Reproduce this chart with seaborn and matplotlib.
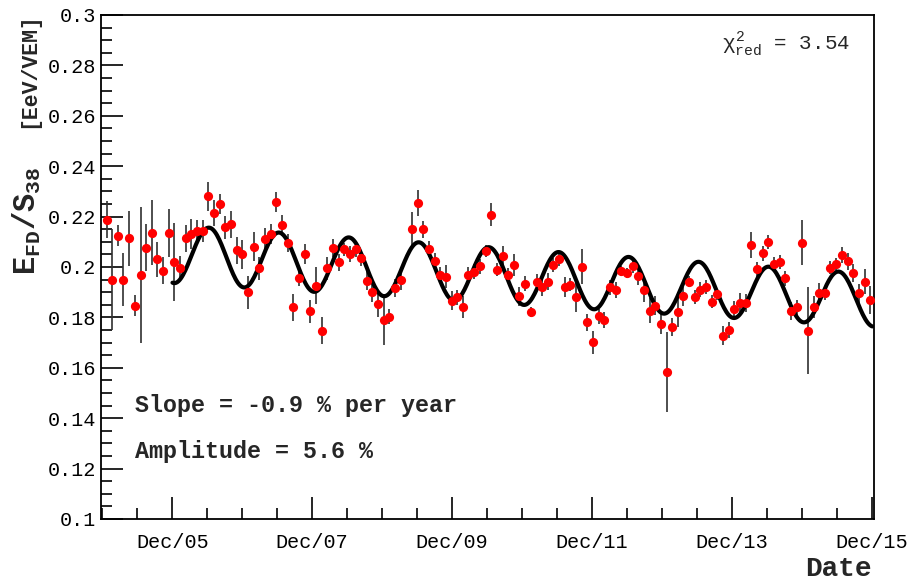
import numpy as np
import pandas as pd
from matplotlib import pyplot as plt
from matplotlib.ticker import FixedLocator, MultipleLocator
import seaborn as sns

# Data: one point per lunation (FD data taking period)

first_bin = pd.Timestamp('2004-12-23')
lunation_days = 29.53

ratio = [0.2188, 0.195, 0.2125, 0.195, 0.2114, 0.1847, 0.1969, 0.2076, 0.2136, 0.2031,
         0.1986, 0.2136, 0.2019, 0.1995, 0.2114, 0.2132, 0.2142, 0.2142, 0.228, 0.2214,
         0.2251, 0.2157, 0.217, 0.2066, 0.205, 0.19, 0.2081, 0.1995, 0.2113, 0.2132,
         0.2258, 0.2165, 0.2095, 0.184, 0.1957, 0.205, 0.1824, 0.1926, 0.1747, 0.1995,
         0.2075, 0.2018, 0.207, 0.2052, 0.207, 0.2034, 0.1946, 0.19, 0.1854, 0.1791,
         0.1803, 0.1917, 0.195, np.nan, 0.2149, 0.2254, 0.215, 0.2071, 0.2023, 0.1969,
         0.1962, 0.1867, 0.188, 0.184, 0.1969, 0.1982, 0.2003, 0.2063, 0.2208, 0.1989,
         0.2044, 0.197, 0.2009, 0.1883, 0.1933, 0.1823, 0.194, 0.1922, 0.1942, 0.2009,
         0.203, 0.1922, 0.193, 0.1879, 0.2001, 0.1781, 0.1701, 0.1804, 0.179, 0.192,
         0.1909, 0.1983, 0.1977, 0.2002, 0.1963, 0.1907, 0.1827, 0.1847, 0.1774, 0.1584,
         0.1763, 0.182, 0.1883, 0.1942, 0.188, 0.1909, 0.1921, 0.1863, 0.1891, 0.1728,
         0.175, 0.1834, 0.1859, 0.1856, 0.2087, 0.1991, 0.2055, 0.21, 0.2011, 0.202,
         0.1955, 0.1824, 0.184, 0.2097, 0.1747, 0.184, 0.1897, 0.1897, 0.1998, 0.2013,
         0.2047, 0.2022, 0.1977, 0.1895, 0.1941, 0.187]

ratio_err = [0.0073, 0.020, 0.0043, 0.0106, 0.011, 0.004, 0.027, 0.0093, 0.0128, 0.007,
             0.0053, 0.0096, 0.0155, 0.005, 0.0053, 0.006, 0.0043, 0.0043, 0.0058, 0.005,
             0.004, 0.0046, 0.0053, 0.0053, 0.0056, 0.0066, 0.0056, 0.0046, 0.004, 0.004,
             0.004, 0.004, 0.0037, 0.0053, 0.0033, 0.004, 0.0046, 0.0073, 0.0053, 0.0046,
             0.0037, 0.0033, 0.0027, 0.0033, 0.003, 0.003, 0.0037, 0.004, 0.0053, 0.0102,
             0.003, 0.0036, 0.004, np.nan, 0.0069, 0.005, 0.0033, 0.0033, 0.0033, 0.003,
             0.0046, 0.0036, 0.003, 0.0043, 0.003, 0.003, 0.003, 0.0025, 0.0046, 0.0025,
             0.004, 0.0025, 0.0043, 0.0036, 0.003, 0.002, 0.0033, 0.0036, 0.0033, 0.0027,
             0.0025, 0.004, 0.0027, 0.0056, 0.007, 0.0033, 0.0046, 0.003, 0.0033, 0.003,
             0.0033, 0.002, 0.002, 0.0027, 0.0033, 0.0046, 0.005, 0.0036, 0.004, 0.0159,
             0.0036, 0.006, 0.0036, 0.0023, 0.0027, 0.003, 0.0027, 0.0027, 0.0023, 0.0036,
             0.0033, 0.0033, 0.0036, 0.0036, 0.0053, 0.003, 0.003, 0.0027, 0.003, 0.0027,
             0.003, 0.0036, 0.003, 0.0089, 0.0172, 0.0043, 0.004, 0.0027, 0.0027, 0.0023,
             0.0033, 0.0033, 0.0036, 0.0036, 0.005, 0.0055]

# Fit: p0 * (1 + slope*(t - t_ref)) * (1 + amp*cos(2 pi (t - t_max)))
fit_p0 = 0.2037
fit_slope = -0.009
fit_amp = 0.056
fit_tref = 2006.7
fit_tmax = 2006.44
fit_range = (2005.917, 2015.92)

tick_years = [2005, 2007, 2009, 2011, 2013, 2015]
tick_labels = ['Dec/05', 'Dec/07', 'Dec/09', 'Dec/11', 'Dec/13', 'Dec/15']
ytick_labels = ['0.1', '0.12', '0.14', '0.16', '0.18', '0.2', '0.22', '0.24', '0.26', '0.28', '0.3']

# Build table

dates = first_bin + pd.to_timedelta(np.arange(len(ratio)) * lunation_days, unit='D')
df = pd.DataFrame({'date': dates, 'ratio': ratio, 'err': ratio_err})
df['t'] = df['date'].dt.year + (df['date'].dt.dayofyear - 1) / 365.25
df = df.dropna()

tt = np.linspace(fit_range[0], fit_range[1], 600)
fit = pd.DataFrame({'t': tt,
                    'f': fit_p0 * (1 + fit_slope * (tt - fit_tref)) * (1 + fit_amp * np.cos(2 * np.pi * (tt - fit_tmax)))})

# Plot

sns.set_style('ticks')
plt.rcParams['font.family'] = ['Liberation Mono', 'DejaVu Sans']
plt.rcParams['mathtext.fontset'] = 'custom'
plt.rcParams['mathtext.rm'] = 'Liberation Mono'
plt.rcParams['mathtext.it'] = 'Liberation Mono'
plt.rcParams['mathtext.bf'] = 'Liberation Mono:bold'

fig = plt.figure(figsize=(9.07, 5.83), dpi=100)
ax = fig.add_axes([101/907, 1 - 519/583, 773/907, 504/583])

ax.vlines(df['t'], df['ratio'] - df['err'], df['ratio'] + df['err'], color='#303030', lw=1.2, zorder=2)
sns.lineplot(data=fit, x='t', y='f', ax=ax, color='black', lw=3, zorder=3)
sns.scatterplot(data=df, x='t', y='ratio', ax=ax, color='red', s=44, linewidth=0, zorder=4)

dec_ticks = [y + 334/365.25 for y in tick_years]
ax.set_xlim(2004.895, 2015.945)
ax.set_ylim(0.1, 0.3)
ax.xaxis.set_major_locator(FixedLocator(dec_ticks))
ax.set_xticklabels(tick_labels)
ax.xaxis.set_minor_locator(FixedLocator([dec_ticks[0] - 1.5 + 0.5 * k for k in range(24)]))
ax.set_yticks(np.arange(0.1, 0.301, 0.02))
ax.set_yticklabels(ytick_labels)
ax.yaxis.set_minor_locator(MultipleLocator(0.005))

ax.tick_params(which='both', direction='in', labelsize=14.5, width=1.2, colors='black')
ax.tick_params(which='major', length=16)
ax.tick_params(which='minor', length=8)
ax.tick_params(axis='x', pad=10)
for s in ax.spines.values():
    s.set_linewidth(1.3)
    s.set_color('black')

ax.set_xlabel('Date', fontsize=20, fontweight='bold')
ax.xaxis.set_label_coords(0.997, -0.10)
ax.xaxis.label.set(ha='right', va='center')

# y title: quantity (large) and unit, drawn as two pieces like the ROOT title
ax.set_ylabel('')
ax.text(-0.094, 1.006, '[EeV/VEM]', transform=ax.transAxes, rotation=90, rotation_mode='anchor',
        ha='right', va='center', fontsize=15.5, fontweight='bold')
ax.text(-0.096, 0.484, r'$\mathbf{E_{FD}/S_{38}}$', transform=ax.transAxes, rotation=90,
        rotation_mode='anchor', ha='left', va='center', fontsize=22)

ax.text(0.044, 0.226, 'Slope = -0.9 % per year', transform=ax.transAxes, fontsize=16.8,
        fontweight='bold', va='center', ha='left')
ax.text(0.044, 0.133, 'Amplitude = 5.6 %', transform=ax.transAxes, fontsize=16.8,
        fontweight='bold', va='center', ha='left')
ax.text(0.969, 0.94, r'$\chi^{2}_{\mathrm{red}}$ = 3.54', transform=ax.transAxes, fontsize=15,
        va='center', ha='right')

plt.savefig('out.png', dpi=100)
